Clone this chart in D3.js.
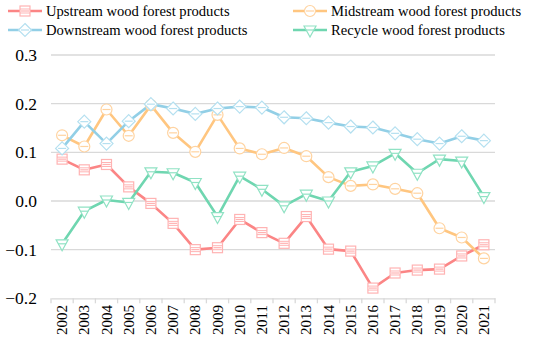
<!DOCTYPE html>
<html><head><meta charset="utf-8">
<script src="https://cdn.jsdelivr.net/npm/d3@7"></script>
<style>body{margin:0;background:#fff}svg{display:block}</style>
</head><body><svg id="c" width="550" height="343"></svg>
<script>
const years = ["2002","2003","2004","2005","2006","2007","2008","2009","2010","2011","2012","2013","2014","2015","2016","2017","2018","2019","2020","2021"];
const upstream = [0.086,0.064,0.075,0.029,-0.005,-0.046,-0.100,-0.096,-0.038,-0.065,-0.087,-0.032,-0.099,-0.103,-0.179,-0.148,-0.142,-0.140,-0.113,-0.090];
const midstream = [0.135,0.112,0.188,0.134,0.197,0.140,0.101,0.177,0.108,0.096,0.109,0.092,0.049,0.031,0.034,0.025,0.016,-0.056,-0.075,-0.118];
const downstream = [0.108,0.163,0.118,0.164,0.199,0.190,0.179,0.190,0.194,0.192,0.172,0.170,0.161,0.153,0.151,0.139,0.127,0.118,0.133,0.124];
const recycle = [-0.088,-0.021,0.002,-0.003,0.060,0.058,0.038,-0.032,0.051,0.024,-0.010,0.014,0.000,0.060,0.072,0.098,0.057,0.086,0.082,0.009];
const yTicks = [-0.2,-0.1,0.0,0.1,0.2,0.3];
const seriesNames = ["Upstream wood forest products","Midstream wood forest products","Downstream wood forest products","Recycle wood forest products"];

const FONT = '"Liberation Serif"';
const series = [
  {name:seriesNames[0], values:upstream, line:"#fb8585", mk:"#ffb3b3", shape:"square"},
  {name:seriesNames[1], values:midstream, line:"#ffc680", mk:"#ffd3a0", shape:"circle"},
  {name:seriesNames[2], values:downstream, line:"#92cfe6", mk:"#b5e0f0", shape:"diamond"},
  {name:seriesNames[3], values:recycle, line:"#6fd6b0", mk:"#90e2c4", shape:"triangle"}
];

const svg = d3.select("#c");
const x = d3.scaleBand().domain(years).range([51,495]);
const y = d3.scaleLinear().domain([-0.2,0.3]).range([298.3,55]);

svg.append("g").selectAll("line").data(yTicks.filter(t=>t>-0.2)).join("line")
  .attr("x1",51).attr("x2",495).attr("y1",d=>y(d)).attr("y2",d=>y(d))
  .attr("stroke","#d9d9d9").attr("stroke-width",1.3);

svg.append("g").selectAll("text").data(yTicks).join("text")
  .attr("x",37).attr("y",d=>y(d)+6).attr("text-anchor","end")
  .style("font-family",FONT).attr("font-size",17.5).attr("fill","#000")
  .text(d=>d3.format(".1f")(d).replace("-","\u2212"));

const xa = svg.append("g").attr("transform",`translate(0,${y(-0.2)})`)
  .call(d3.axisBottom(x).tickSize(0).tickPadding(0));
xa.select(".domain").attr("stroke","#d9d9d9").attr("stroke-width",1.3);
xa.selectAll(".tick text").remove();
const bounds = years.map(d=>x(d)).concat([x.range()[1]]);
xa.selectAll(".bt").data(bounds).join("line").attr("class","bt")
  .attr("x1",d=>d).attr("x2",d=>d).attr("y1",0).attr("y2",5)
  .attr("stroke","#d9d9d9").attr("stroke-width",1.3);
svg.append("g").selectAll("text").data(years).join("text")
  .attr("transform",d=>`translate(${x(d)+x.bandwidth()/2+5},305) rotate(-90)`)
  .attr("text-anchor","end").style("font-family",FONT).attr("font-size",15).attr("fill","#000").text(d=>d);

function marker(g, shape, color){
  const s = 5;
  if(shape==="square"){
    g.append("rect").attr("x",-s).attr("y",-s).attr("width",2*s).attr("height",2*s);
  } else if(shape==="circle"){
    g.append("circle").attr("r",s+0.5);
  } else if(shape==="diamond"){
    g.append("path").attr("d",`M0,${-s-1.5}L${s+1.5},0L0,${s+1.5}L${-s-1.5},0Z`);
  } else {
    g.append("path").attr("d",`M${-s-1},${-s+1}L${s+1},${-s+1}L0,${s+2}Z`);
  }
  g.selectAll("rect,circle,path").attr("fill","#fff").attr("stroke",color).attr("stroke-width",1.2);
  g.append("line").attr("x1",-s+1).attr("x2",s-1).attr("y1",0).attr("y2",0).attr("stroke",color).attr("stroke-width",1.2);
  if(shape==="square"){
    g.append("line").attr("x1",-s).attr("x2",s).attr("y1",-2).attr("y2",-2).attr("stroke",color).attr("stroke-width",1);
    g.append("line").attr("x1",-s).attr("x2",s).attr("y1",2).attr("y2",2).attr("stroke",color).attr("stroke-width",1);
  }
}

const cx = d=>x(d)+x.bandwidth()/2;
const line = d3.line().x((v,i)=>cx(years[i])).y(v=>y(v));
series.forEach(s=>{
  svg.append("path").attr("d",line(s.values)).attr("fill","none")
    .attr("stroke",s.line).attr("stroke-width",2.6).attr("stroke-linejoin","round");
});
series.forEach(s=>{
  const g = svg.append("g");
  s.values.forEach((v,i)=>{
    const m = g.append("g").attr("transform",`translate(${cx(years[i])},${y(v)})`);
    marker(m,s.shape,s.mk);
  });
});

const leg = [
  {s:series[0], x:8, y:11},
  {s:series[1], x:293, y:11},
  {s:series[2], x:8, y:30},
  {s:series[3], x:293, y:30}
];
leg.forEach(l=>{
  const g = svg.append("g").attr("transform",`translate(${l.x},${l.y})`);
  g.append("line").attr("x1",0).attr("x2",34).attr("stroke",l.s.line).attr("stroke-width",2.6);
  const m = g.append("g").attr("transform","translate(17,0)");
  marker(m,l.s.shape,l.s.mk);
  g.append("text").attr("x",38).attr("y",5).style("font-family",FONT).attr("font-size",14.6).attr("fill","#000").text(l.s.name);
});
</script></body></html>
